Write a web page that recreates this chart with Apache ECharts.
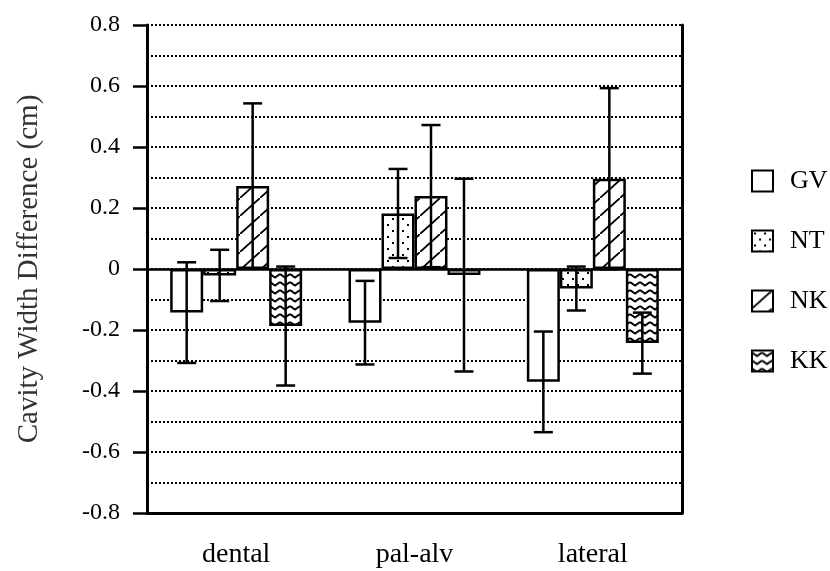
<!DOCTYPE html>
<html><head><meta charset="utf-8">
<script src="https://cdn.jsdelivr.net/npm/echarts@6/dist/echarts.min.js"></script>
<style>html,body{margin:0;padding:0;background:#fff}#c{width:830px;height:571px}</style>
</head><body><div id="c"></div>
<script>
const categories = ['dental', 'pal-alv', 'lateral'];
const seriesNames = ['GV', 'NT', 'NK', 'KK'];
const meansGV = [-0.143, -0.176, -0.370];
const meansNT = [-0.021, 0.182, -0.064];
const meansNK = [0.272, 0.239, 0.296];
const meansKK = [-0.187, -0.020, -0.243];
const errGV = [0.165, 0.137, 0.165];
const errNT = [0.084, 0.146, 0.072];
const errNK = [0.271, 0.233, 0.297];
const errKK = [0.195, 0.316, 0.100];
const yTicks = [-0.8, -0.6, -0.4, -0.2, 0, 0.2, 0.4, 0.6, 0.8];

const means = [meansGV, meansNT, meansNK, meansKK];
const errs = [errGV, errNT, errNK, errKK];

function makeCanvas(w, h, draw) {
  const c = document.createElement('canvas');
  c.width = w; c.height = h;
  const ctx = c.getContext('2d');
  ctx.fillStyle = '#fff'; ctx.fillRect(0, 0, w, h);
  ctx.fillStyle = '#000'; ctx.strokeStyle = '#000';
  draw(ctx);
  return c;
}
const patNT = makeCanvas(10, 12, ctx => { ctx.fillRect(2, 2, 2, 2); ctx.fillRect(7, 8, 2, 2); });
const patNK = makeCanvas(20, 18, ctx => {
  ctx.lineWidth = 1.8;
  ctx.beginPath(); ctx.moveTo(-2, 19.8); ctx.lineTo(22, -1.8); ctx.stroke();
});
const patKK = makeCanvas(10, 8, ctx => {
  ctx.lineWidth = 2;
  ctx.beginPath(); ctx.moveTo(0, 2); ctx.lineTo(5, 5.5); ctx.lineTo(10, 2); ctx.stroke();
});
const fills = ['#ffffff',
  { image: patNT, repeat: 'repeat' },
  { image: patNK, repeat: 'repeat' },
  { image: patKK, repeat: 'repeat' }];

const GAP = 0.26;
const FONT = 'Liberation Serif';

const series = [];
seriesNames.forEach((name, k) => {
  series.push({
    name: name, type: 'bar', data: means[k],
    barGap: 0, barCategoryGap: (GAP * 100) + '%',
    itemStyle: { color: fills[k], borderColor: '#000', borderWidth: 2.5 },
    z: 2
  });
});
seriesNames.forEach((name, k) => {
  series.push({
    type: 'custom', z: 5,
    data: categories.map((c, i) => [i, means[k][i], errs[k][i], k]),
    renderItem: function (params, api) {
      const ci = api.value(0), m = api.value(1), e = api.value(2), kk = api.value(3);
      const band = api.size([1, 0])[0];
      const group = band * (1 - GAP);
      const bw = group / 4;
      const cx = api.coord([ci, 0])[0] - group / 2 + bw * (kk + 0.5);
      const yt = api.coord([ci, m + e])[1];
      const yb = api.coord([ci, m - e])[1];
      const cap = 9.5;
      const st = { stroke: '#000', lineWidth: 2.5 };
      return { type: 'group', children: [
        { type: 'line', shape: { x1: cx, y1: yt, x2: cx, y2: yb }, style: st },
        { type: 'line', shape: { x1: cx - cap, y1: yt, x2: cx + cap, y2: yt }, style: st },
        { type: 'line', shape: { x1: cx - cap, y1: yb, x2: cx + cap, y2: yb }, style: st }
      ]};
    }
  });
});
// zero line
series.push({
  type: 'line', data: [], z: 4,
  markLine: { silent: true, symbol: 'none', label: { show: false },
    lineStyle: { color: '#000', type: 'solid', width: 2.5 },
    data: [{ yAxis: 0 }] }
});

const chart = echarts.init(document.getElementById('c'), null, { renderer: 'canvas' });
chart.setOption({
  animation: false,
  backgroundColor: '#fff',
  grid: { left: 147, right: 148, top: 25, bottom: 58 },
  legend: {
    data: seriesNames, orient: 'vertical', left: 746, top: 163,
    itemWidth: 21, itemHeight: 21, itemGap: 34,
    icon: 'rect',
    textStyle: { fontFamily: FONT, fontSize: 26, color: '#000', lineHeight: 22, padding: [0, 0, 0, 12] }
  },
  xAxis: {
    type: 'category', data: categories,
    axisLine: { onZero: false, lineStyle: { color: '#000', width: 3 } },
    axisTick: { alignWithLabel: true, length: 14, lineStyle: { color: '#000', width: 2.5 } },
    axisLabel: { fontFamily: FONT, fontSize: 28, color: '#000', margin: 28 },
    splitLine: { show: false }
  },
  yAxis: [{
    type: 'value', min: yTicks[0], max: yTicks[yTicks.length - 1], interval: 0.2,
    name: 'Cavity Width Difference (cm)', nameLocation: 'middle', nameGap: 103,
    nameTextStyle: { fontFamily: FONT, fontSize: 29, color: '#333' },
    axisLine: { show: true, lineStyle: { color: '#000', width: 3 } },
    axisTick: { show: true, length: 14, lineStyle: { color: '#000', width: 2.5 } },
    axisLabel: { fontFamily: FONT, fontSize: 24, color: '#000', margin: 27,
      formatter: v => { const r = Math.round(v * 10) / 10; return r === 0 ? '0' : String(r); } },
    splitLine: { show: true, lineStyle: { color: '#000', type: [2, 2], width: 2 } },
    minorTick: { show: false, splitNumber: 2 },
    minorSplitLine: { show: true, lineStyle: { color: '#000', type: [2, 2], width: 2 } }
  }, {
    type: 'value', min: yTicks[0], max: yTicks[yTicks.length - 1], interval: 0.2, position: 'right',
    axisLine: { show: true, lineStyle: { color: '#000', width: 3 } },
    axisTick: { show: false }, axisLabel: { show: false }, splitLine: { show: false }
  }],
  series: series
});
</script>
</body></html>
